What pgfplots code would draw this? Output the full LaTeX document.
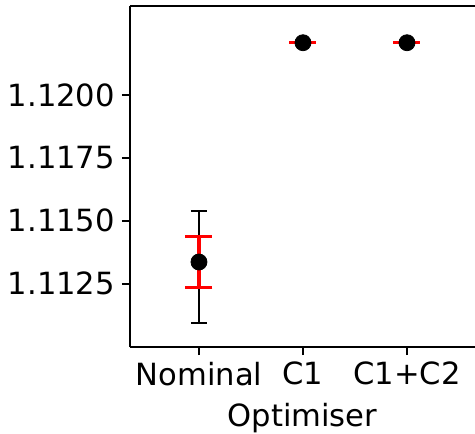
\documentclass[border=0pt]{standalone}
\usepackage{pgfplots}
\pgfplotsset{compat=1.18}
\usepackage{fontspec}
\setmainfont{DejaVu Sans}
\begin{document}
\begin{tikzpicture}
\begin{axis}[
  name=ax,
  scale only axis,
  width=172.5pt, height=170.5pt,
  xmin=-0.663, xmax=2.654,
  ymin=1.10998, ymax=1.12354,
  axis x line*=box, axis y line*=left,
  xtick pos=lower, ytick pos=left,
  xtick={0,1,2},
  xticklabels={Nominal,C1,C1+C2},
  ytick={1.1125,1.115,1.1175,1.12},
  yticklabels={1.1125,1.1150,1.1175,1.1200},
  tick align=outside,
  major tick length=4pt,
  axis line style={line width=1pt, black},
  tick style={line width=1pt, black},
  ticklabel style={font=\fontsize{15.3}{18}\selectfont},
  label style={font=\fontsize{15.3}{18}\selectfont},
  xlabel={Optimiser},
  xlabel style={yshift=-2pt},
  clip=false,
]
\addplot[only marks, mark=none, error bars/.cd, y dir=both, y explicit,
  error bar style={black, line width=1pt},
  error mark=|, error mark options={black, line width=1pt, mark size=4pt}]
coordinates {(0,1.11336) += (0,0.00203) -= (0,0.00243)
             (1,1.12208) +- (0,0) (2,1.12208) +- (0,0)};
\addplot[only marks, mark=none, error bars/.cd, y dir=both, y explicit,
  error bar style={red, line width=2pt},
  error mark=|, error mark options={red, line width=1.5pt, mark size=6.75pt}]
coordinates {(0,1.11336) += (0,0.00100) -= (0,0.00103)
             (1,1.12208) +- (0,0) (2,1.12208) +- (0,0)};
\addplot[only marks, mark=*, mark size=4pt, black, mark options={fill=black}]
coordinates {(0,1.11336) (1,1.12208) (2,1.12208)};
\end{axis}
\pgfresetboundingbox
\path ([xshift=-65pt,yshift=-43pt]ax.south west) rectangle ([yshift=3pt]ax.north east);
\end{tikzpicture}
\end{document}
